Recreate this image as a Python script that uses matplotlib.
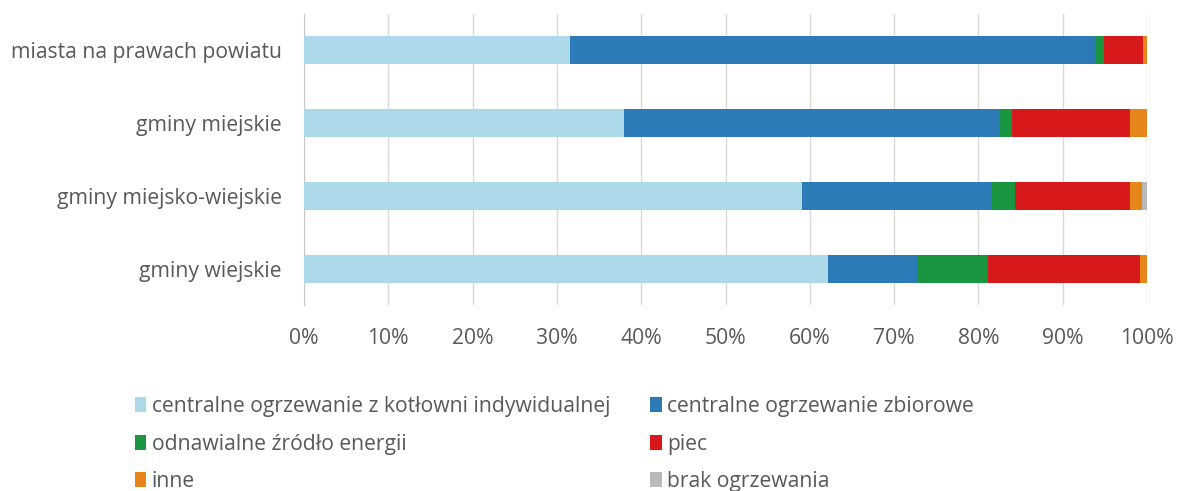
import numpy as np
import matplotlib.pyplot as plt
from matplotlib.patches import Patch

plt.rcParams['font.family'] = ['Open Sans', 'DejaVu Sans']

categories = ['miasta na prawach powiatu', 'gminy miejskie',
              'gminy miejsko-wiejskie', 'gminy wiejskie']
series = ['centralne ogrzewanie z kotłowni indywidualnej',
          'centralne ogrzewanie zbiorowe',
          'odnawialne źródło energii', 'piec', 'inne', 'brak ogrzewania']
# udziały w %
co_indywidualne = [31.5, 37.9, 59.1, 62.1]
co_zbiorowe = [62.3, 44.7, 22.5, 10.6]
oze = [1.1, 1.4, 2.7, 8.4]
piec = [4.6, 14.0, 13.7, 18.1]
inne = [0.5, 2.0, 1.4, 0.8]
brak = [0.0, 0.0, 0.6, 0.0]
colors = ['#abd9e9', '#2c7bb6', '#1a9641', '#d7191c', '#e6851a', '#bababa']

values = [co_indywidualne, co_zbiorowe, oze, piec, inne, brak]

fig = plt.figure(figsize=(11.77, 4.91), dpi=100)
ax = fig.add_axes([0.2583, 0.378, 0.7162, 0.5945])

y = np.arange(len(categories))
left = np.zeros(len(categories))
for vals, col in zip(values, colors):
    ax.barh(y, vals, left=left, height=0.39, color=col, zorder=3)
    left += np.array(vals)

ax.set_ylim(len(categories) - 0.5, -0.5)
ax.set_xlim(0, 100)
ax.set_xticks(np.arange(0, 101, 10))
ax.set_xticklabels([f'{t}%' for t in range(0, 101, 10)])
ax.set_yticks(y)
ax.set_yticklabels(categories)
ax.tick_params(axis='both', length=0, colors='#595959', labelsize=15.2)
ax.tick_params(axis='x', pad=16)
ax.tick_params(axis='y', pad=16)
ax.xaxis.grid(True, color='#d9d9d9', linewidth=1, zorder=0)
for s in ['top', 'right', 'bottom']:
    ax.spines[s].set_visible(False)
ax.spines['left'].set_color('#c8c8c8')

handles = [Patch(facecolor=c) for c in colors]
order = [0, 2, 4, 1, 3, 5]
fig.legend([handles[i] for i in order], [series[i] for i in order],
           ncol=2, loc='upper left', bbox_to_anchor=(0.0983, 0.232),
           frameon=False, fontsize=15.2, labelcolor='#595959',
           handlelength=0.55, handleheight=0.7, handletextpad=0.25,
           columnspacing=1.9, labelspacing=0.78)

fig.savefig('out.png', dpi=100)
